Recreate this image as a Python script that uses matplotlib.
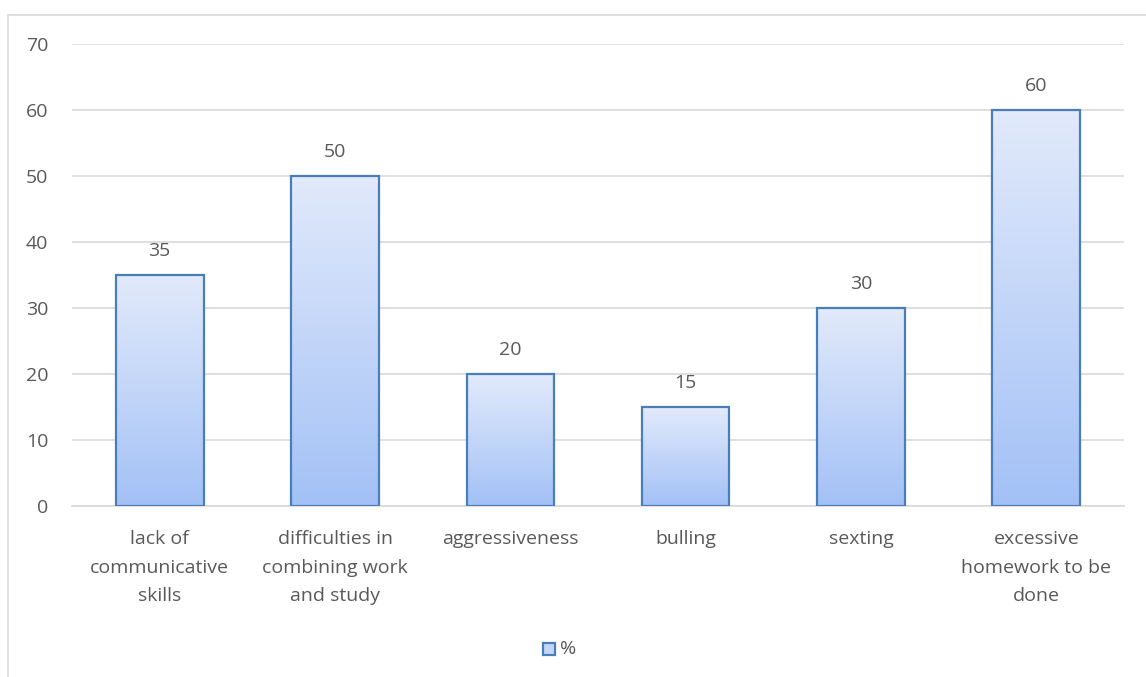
import numpy as np
import matplotlib.pyplot as plt
from matplotlib.patches import Rectangle
from matplotlib.colors import LinearSegmentedColormap

categories = ['lack of\ncommunicative\nskills', 'difficulties in\ncombining work\nand study',
              'aggressiveness', 'bulling', 'sexting', 'excessive\nhomework to be\ndone']
values = [35, 50, 20, 15, 30, 60]
series_name = '%'

plt.rcParams['font.family'] = ['Open Sans', 'DejaVu Sans']
txt = '#595959'
fs = 14

fig = plt.figure(figsize=(11.46, 6.77), dpi=100)
# outer chart border
fig.patches.append(Rectangle((8 / 1146, -0.1), 1.2, 1 - 15 / 677 + 0.1, transform=fig.transFigure,
                             fill=False, edgecolor='#d9d9d9', linewidth=1.2))
ax = fig.add_axes([72 / 1146, 1 - 506 / 677, (1124 - 72) / 1146, (506 - 44) / 677])

x = np.arange(len(values))
bars = ax.bar(x, values, width=0.5, color='none', edgecolor='#4a7ebb', linewidth=1.6, zorder=3)
cmap = LinearSegmentedColormap.from_list('g', ['#a3c1f6', '#e2eafb'])
grad = np.linspace(0, 1, 256).reshape(-1, 1)
for b in bars:
    im = ax.imshow(grad, cmap=cmap, aspect='auto', origin='lower',
                   extent=[b.get_x(), b.get_x() + b.get_width(), 0, b.get_height()], zorder=2)
    im.set_clip_path(b)
    ax.text(b.get_x() + b.get_width() / 2, b.get_height() + 2.3, str(int(b.get_height())),
            ha='center', va='bottom', fontsize=fs, color=txt)

ax.set_xlim(-0.5, len(values) - 0.5)
ax.set_ylim(0, 70)
ax.set_yticks(range(0, 71, 10))
ax.set_xticks(x)
ax.set_xticklabels(categories, fontsize=fs, color=txt, linespacing=1.75)
ax.tick_params(axis='y', labelsize=fs, labelcolor=txt, length=0, pad=17)
ax.tick_params(axis='x', length=0, pad=17.5)
ax.grid(axis='y', color='#d9d9d9', linewidth=1.2, zorder=0)
for s in ['top', 'right', 'left']:
    ax.spines[s].set_visible(False)
ax.spines['bottom'].set_color('#d9d9d9')
ax.spines['bottom'].set_linewidth(1.2)

# legend
fig.patches.append(Rectangle((543 / 1146, 1 - 655 / 677), 12 / 1146, 12 / 677, transform=fig.transFigure,
                             facecolor='#c5d7f7', edgecolor='#4a7ebb', linewidth=1.6))
fig.text(560 / 1146, 1 - 649 / 677, series_name, fontsize=fs, color=txt, va='center')

fig.savefig('out.png', dpi=100)
